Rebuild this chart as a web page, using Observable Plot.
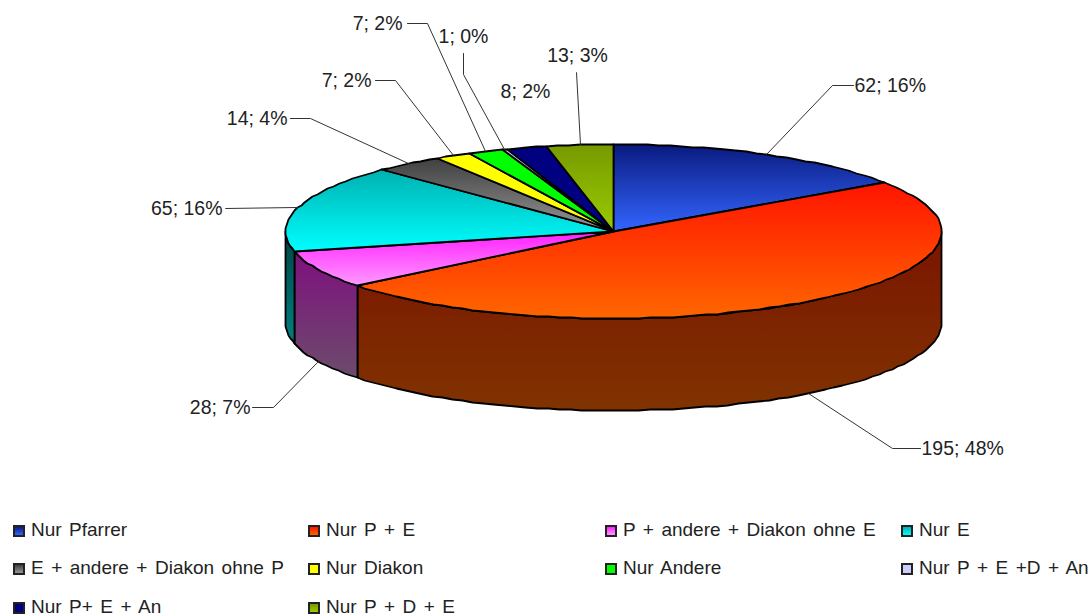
<!DOCTYPE html>
<html lang="de">
<head>
<meta charset="utf-8">
<script src="https://cdn.jsdelivr.net/npm/d3@7"></script>
<script src="https://cdn.jsdelivr.net/npm/@observablehq/plot@0.6"></script>
<style>
html,body{margin:0;padding:0;background:#fff;overflow:hidden}
#chart svg{display:block}
#legend{position:relative;height:101px;width:1090px;font:19px "Liberation Sans",sans-serif;color:#222;word-spacing:2.2px}
.item{position:absolute;white-space:nowrap;line-height:20px;height:20px}
.sw{position:absolute;left:0;top:5px;width:8px;height:8px;border:2px solid #222}
.lb{position:absolute;left:18px;top:0}
</style>
</head>
<body>
<div id="chart"></div>
<div id="legend"></div>
<script>
const categories = ["Nur Pfarrer","Nur P + E","P + andere + Diakon ohne E","Nur E","E + andere + Diakon ohne P","Nur Diakon","Nur Andere","Nur P + E +D + An","Nur P+ E + An","Nur P + D + E"];
const values = [62,195,28,65,14,7,7,1,8,13];
const percents = [16,48,7,16,4,2,2,0,2,3];
const topFrom = ["#0a1a80","#ff1400","#ff1fff","#00b0b0","#404040","#ffff00","#00ff00","#ccccff","#000080","#779900"];
const topTo = ["#3366ff","#ff6600","#ff99ff","#00ffff","#969696","#ffff00","#00ff00","#ccccff","#000080","#99cc00"];
const sideFrom = ["#050d40","#7a1400","#7f0f7f","#004444","#202020","#808000","#008000","#666680","#000040","#3c4d00"];
const sideTo = ["#1a3380","#803300","#6b4c6b","#008080","#4b4b4b","#808000","#008000","#666680","#000040","#4d6600"];
// leader and label placement relative to each slice's rim point:
// elbow dx, dy, leader end dx, dy, text dx, dy, text anchor; null = no leader
const labelPlace = [
  [66,-69,87,-69,88,-69,"start"],[84,55,112,55,113,55,"start"],[-45,46,-66,46,-68,46,"end"],[-72,1,-72,1,-75,1,"end"],
  [-98,-45,-118,-45,-121,-45,"end"],[-58,-75,-78,-75,-82,-75,"end"],[-58,-128,-78,-128,-83,-128,"end"],[-41,-75,-41,-96,-41,-113,"middle"],
  null,[-4,-72,-4,-72,-3,-89,"middle"]
];
const noLeaderText = [525,91];

const W = 1090, H = 515;
const cx = 613, cy = 231, rx = 328, ry = 87, depth = 92;
const total = d3.sum(values);
const TAU = 2*Math.PI;
const px = t => Math.round(cx + rx*Math.sin(t));
const py = t => Math.round(cy - ry*Math.cos(t));
let acc = 0;
const slices = values.map((v,i)=>{const a=acc/total*TAU; acc+=v; return {i,a,b:acc/total*TAU,v};});
function arc(a,b,off=0){
  const n = Math.max(2,Math.ceil((b-a)/(TAU/180)));
  return d3.range(n+1).map(k=>{const t=a+(b-a)*k/n; return {x:px(t),y:py(t)+off};});
}
const shape = {x:"x",y:"y",stroke:"#000",strokeWidth:1.8,curve:"linear-closed",strokeLinejoin:"round"};
const sideMarks = [];
slices.forEach(s=>{
  const a=Math.max(s.a,Math.PI/2), b=Math.min(s.b,1.5*Math.PI);
  if(b<=a) return;
  const pts=[...arc(a,b),...arc(a,b,depth).reverse()];
  sideMarks.push(Plot.line(pts,{...shape,fill:`url(#side${s.i})`}));
});
const topMarks = slices.map(s=>Plot.line([{x:cx,y:cy},...arc(s.a,s.b)],{...shape,fill:`url(#top${s.i})`}));

const labels=[], leaders=[];
slices.forEach(s=>{
  const t=(s.a+s.b)/2, front=Math.cos(t)<0;
  const x0=px(t), y0=py(t)+(front?depth:0);
  const text=`${s.v}; ${percents[s.i]}%`;
  const p=labelPlace[s.i];
  if(!p){labels.push({x:noLeaderText[0],y:noLeaderText[1],text,anchor:"middle"});return;}
  leaders.push({k:s.i,x:x0,y:y0},{k:s.i,x:x0+p[0],y:y0+p[1]},{k:s.i,x:x0+p[2],y:y0+p[3]});
  labels.push({x:x0+p[4],y:y0+p[5],text,anchor:p[6]});
});
function defs(){
  const g=d3.create("svg:defs");
  const add=(id,f,t)=>{const l=g.append("linearGradient").attr("id",id).attr("x1",0).attr("y1",0).attr("x2",0).attr("y2",1);
    l.append("stop").attr("offset",0).attr("stop-color",f);l.append("stop").attr("offset",1).attr("stop-color",t);};
  categories.forEach((c,i)=>{add("top"+i,topFrom[i],topTo[i]);add("side"+i,sideFrom[i],sideTo[i]);});
  return g.node();
}
const txt={x:"x",y:"y",text:"text",fontFamily:"Liberation Sans",fontSize:19.5,fill:"#222"};
const plot = Plot.plot({
  width:W,height:H,margin:0,
  x:{domain:[0,W],range:[0,W],axis:null},
  y:{domain:[0,H],range:[0,H],axis:null},
  marks:[
    defs,
    ...sideMarks,
    ...topMarks,
    Plot.line(leaders,{x:"x",y:"y",z:"k",stroke:"#333",strokeWidth:1}),
    ...["start","middle","end"].map(a=>Plot.text(labels,{...txt,filter:d=>d.anchor===a,textAnchor:a}))
  ]
});
document.getElementById("chart").appendChild(plot);

const colX=[13,308,605,901], rowY=[5,43,82];
const legend=document.getElementById("legend");
categories.forEach((c,i)=>{
  const it=document.createElement("div");it.className="item";
  it.style.left=colX[i%4]+"px";it.style.top=rowY[Math.floor(i/4)]+"px";
  const s=document.createElement("span");s.className="sw";s.style.background=`linear-gradient(${topFrom[i]},${topTo[i]})`;
  const l=document.createElement("span");l.className="lb";l.textContent=c;
  it.append(s,l);legend.appendChild(it);
});
</script>
</body>
</html>
